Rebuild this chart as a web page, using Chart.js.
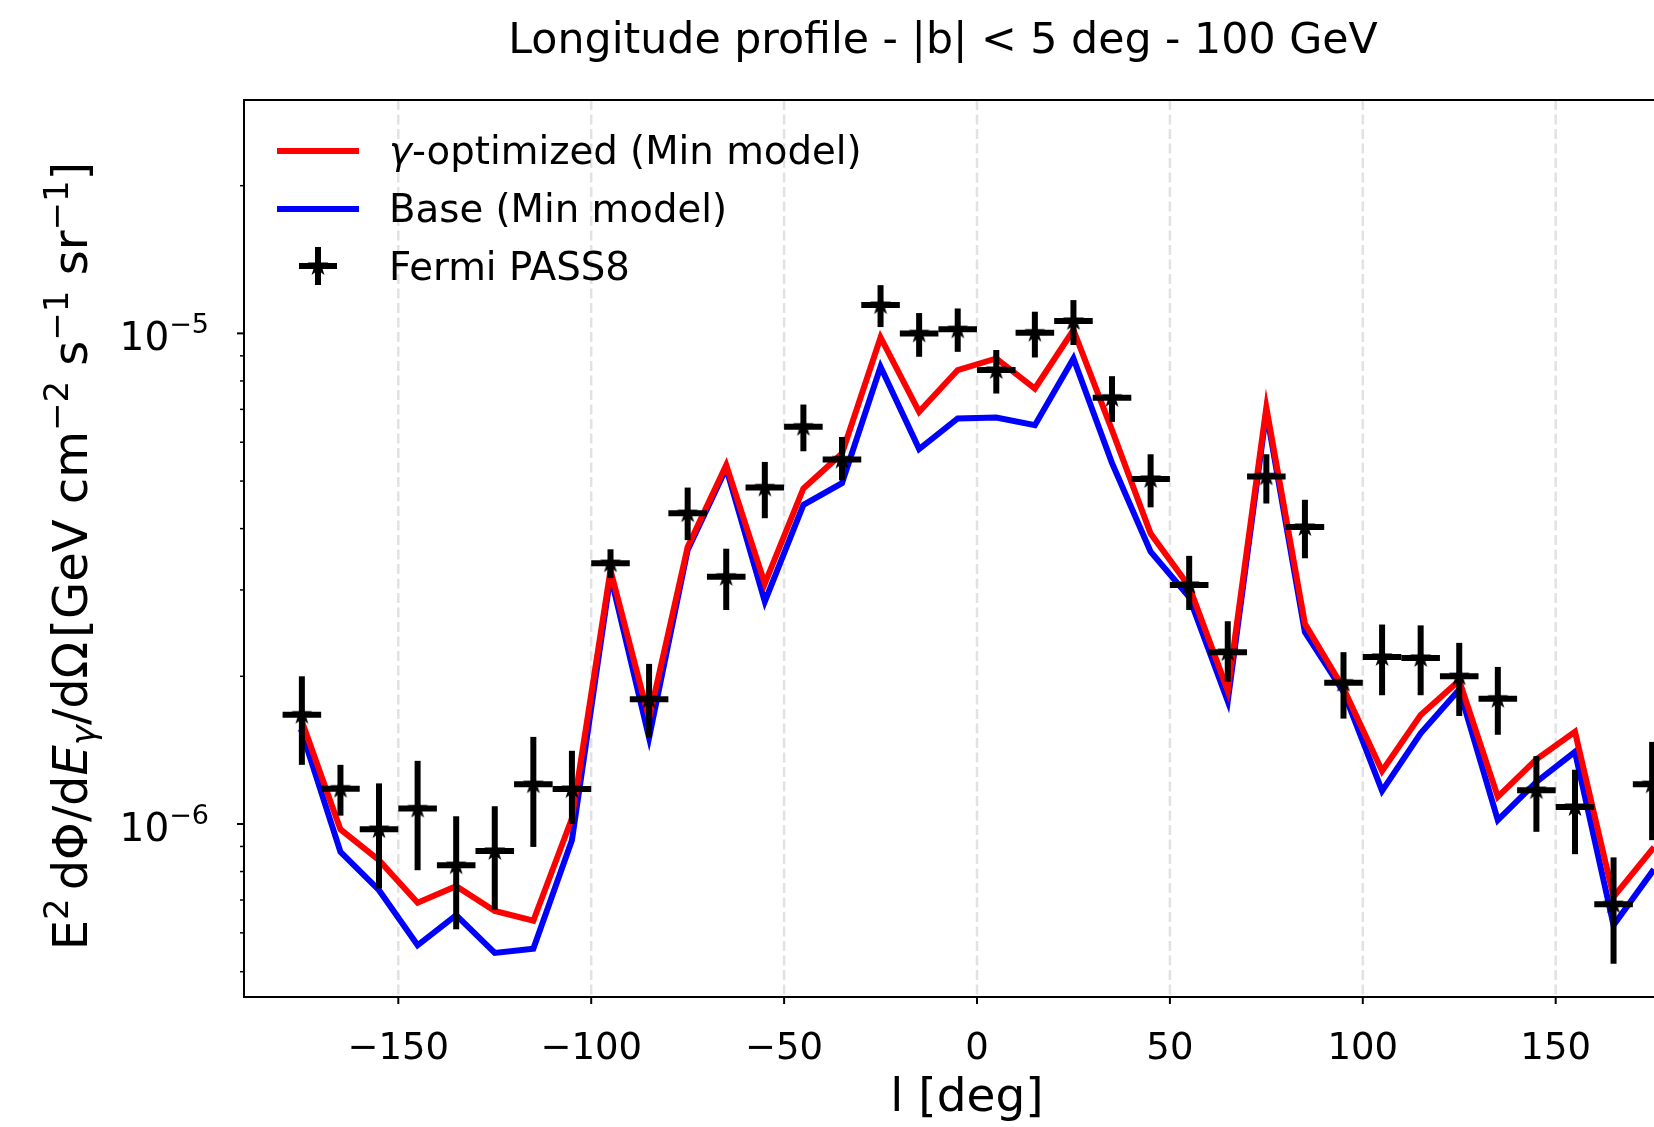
<!DOCTYPE html>
<html lang="en">
<head>
    <meta charset="UTF-8">
    <title>Longitude profile - 100 GeV</title>
    <!-- CDN for the chart.js library -->
    <script src="https://cdn.jsdelivr.net/npm/chart.js@4.4.0/dist/chart.umd.min.js"></script>
    <style>
        html, body { margin: 0; padding: 0; background: #fff; overflow: hidden; }
        canvas { display: block; }
    </style>
</head>
<body>
    <!-- figure is wider than the window, the right edge gets cut off like in the original -->
    <canvas id="chart" width="1886" height="1127"></canvas>

    <script>
        // longitude bin centres [deg], bins are 10 deg wide
        const longitudes = [-175, -165, -155, -145, -135, -125, -115, -105, -95, -85, -75, -65,
            -55, -45, -35, -25, -15, -5, 5, 15, 25, 35, 45, 55,
            65, 75, 85, 95, 105, 115, 125, 135, 145, 155, 165, 175];
        const binHalfWidth = 5;

        // E^2 dPhi/dE/dOmega [GeV cm^-2 s^-1 sr^-1]
        const gammaOptimized = [1.62e-6, 0.975e-6, 0.844e-6, 0.691e-6, 0.747e-6, 0.665e-6, 0.635e-6, 1.026e-6,
            3.29e-6, 1.64e-6, 3.67e-6, 5.39e-6, 3.09e-6, 4.83e-6, 5.69e-6, 9.81e-6, 6.92e-6, 8.42e-6,
            8.89e-6, 7.72e-6, 1.016e-5, 6.35e-6, 3.91e-6, 3.05e-6, 1.87e-6, 7.06e-6, 2.56e-6, 1.89e-6,
            1.283e-6, 1.667e-6, 1.96e-6, 1.136e-6, 1.354e-6, 1.541e-6, 0.710e-6, 0.887e-6];
        const baseModel = [1.54e-6, 0.877e-6, 0.733e-6, 0.566e-6, 0.652e-6, 0.546e-6, 0.557e-6, 0.927e-6,
            3.21e-6, 1.50e-6, 3.62e-6, 5.31e-6, 2.84e-6, 4.47e-6, 4.95e-6, 8.55e-6, 5.81e-6, 6.71e-6,
            6.74e-6, 6.50e-6, 8.89e-6, 5.44e-6, 3.59e-6, 2.90e-6, 1.78e-6, 6.92e-6, 2.46e-6, 1.86e-6,
            1.168e-6, 1.53e-6, 1.88e-6, 1.018e-6, 1.218e-6, 1.403e-6, 0.622e-6, 0.799e-6];
        const fermiFlux = [1.67e-6, 1.18e-6, 0.976e-6, 1.075e-6, 0.824e-6, 0.881e-6, 1.205e-6, 1.178e-6,
            3.40e-6, 1.796e-6, 4.30e-6, 3.19e-6, 4.85e-6, 6.45e-6, 5.53e-6, 1.142e-5, 1.00e-5, 1.019e-5,
            8.42e-6, 1.003e-5, 1.06e-5, 7.39e-6, 5.05e-6, 3.07e-6, 2.24e-6, 5.11e-6, 4.03e-6, 1.94e-6,
            2.19e-6, 2.18e-6, 2.00e-6, 1.80e-6, 1.172e-6, 1.083e-6, 0.686e-6, 1.205e-6];
        const fermiLow = [1.32e-6, 1.04e-6, 0.739e-6, 0.805e-6, 0.61e-6, 0.669e-6, 0.898e-6, 1.00e-6,
            3.17e-6, 1.50e-6, 3.79e-6, 2.73e-6, 4.20e-6, 5.75e-6, 5.02e-6, 1.03e-5, 8.96e-6, 9.17e-6,
            7.54e-6, 8.93e-6, 9.47e-6, 6.60e-6, 4.42e-6, 2.73e-6, 1.95e-6, 4.50e-6, 3.48e-6, 1.64e-6,
            1.83e-6, 1.83e-6, 1.66e-6, 1.52e-6, 0.964e-6, 0.868e-6, 0.519e-6, 0.927e-6];
        const fermiHigh = [2.0e-6, 1.32e-6, 1.21e-6, 1.345e-6, 1.037e-6, 1.087e-6, 1.505e-6, 1.41e-6,
            3.63e-6, 2.12e-6, 4.85e-6, 3.64e-6, 5.47e-6, 7.16e-6, 6.15e-6, 1.254e-5, 1.10e-5, 1.124e-5,
            9.25e-6, 1.107e-5, 1.169e-5, 8.18e-6, 5.67e-6, 3.52e-6, 2.59e-6, 5.67e-6, 4.58e-6, 2.24e-6,
            2.55e-6, 2.54e-6, 2.34e-6, 2.09e-6, 1.375e-6, 1.29e-6, 0.855e-6, 1.47e-6];

        // axes
        const xRange = [-190, 190];
        const yRange = [4.44e-7, 2.99e-5];
        const xTicks = [-150, -100, -50, 0, 50, 100, 150];
        const yMajorTicks = [1e-6, 1e-5];
        const yMajorExp = ['−6', '−5'];
        const yMinorTicks = [5e-7, 6e-7, 7e-7, 8e-7, 9e-7, 2e-6, 3e-6, 4e-6, 5e-6, 6e-6, 7e-6, 8e-6, 9e-6, 2e-5];

        const FONT = '"DejaVu Sans", sans-serif';

        // filled five point star, like the matplotlib '*' marker
        function starImage(r) {
            const c = document.createElement('canvas');
            c.width = c.height = 2 * r + 2;
            const g = c.getContext('2d');
            g.fillStyle = '#000';
            g.beginPath();
            for (let i = 0; i < 10; i++) {
                const rad = i % 2 === 0 ? r : r * 0.38;
                const ang = -Math.PI / 2 + i * Math.PI / 5;
                g.lineTo(r + 1 + rad * Math.cos(ang), r + 1 + rad * Math.sin(ang));
            }
            g.closePath();
            g.fill();
            return c;
        }
        const star = starImage(11);

        // text with super/subscripts, parts = [{t, size, dy, italic, gap}]
        function fontOf(p) { return (p.italic ? 'italic ' : '') + p.size + 'px ' + FONT; }
        function richWidth(ctx, parts) {
            let w = 0;
            parts.forEach(p => { ctx.font = fontOf(p); w += ctx.measureText(p.t).width + (p.gap || 0); });
            return w;
        }
        function drawRich(ctx, parts, x, y, align) {
            let cx = x;
            if (align === 'right') cx = x - richWidth(ctx, parts);
            if (align === 'center') cx = x - richWidth(ctx, parts) / 2;
            parts.forEach(p => {
                ctx.font = fontOf(p);
                cx += p.gap || 0;
                ctx.fillText(p.t, cx, y + (p.dy || 0));
                cx += ctx.measureText(p.t).width;
            });
        }
        function seg(ctx, x1, y1, x2, y2) {
            ctx.beginPath();
            ctx.moveTo(x1, y1);
            ctx.lineTo(x2, y2);
            ctx.stroke();
        }

        const figurePlugin = {
            id: 'figure',
            beforeDatasetsDraw(chart) {
                // dashed vertical grid
                const { ctx, chartArea: a, scales: { x } } = chart;
                ctx.save();
                ctx.strokeStyle = '#e2e2e2';
                ctx.lineWidth = 2.5;
                ctx.setLineDash([10, 4.5]);
                xTicks.forEach(t => {
                    const px = x.getPixelForValue(t);
                    seg(ctx, px, a.top, px, a.bottom);
                });
                ctx.restore();
            },
            afterDatasetsDraw(chart) {
                // Fermi error bars on top of the model lines
                const { ctx, scales: { x, y } } = chart;
                ctx.save();
                ctx.strokeStyle = '#000';
                ctx.lineWidth = 6;
                longitudes.forEach((l, i) => {
                    const px = x.getPixelForValue(l);
                    const py = y.getPixelForValue(fermiFlux[i]);
                    seg(ctx, x.getPixelForValue(l - binHalfWidth), py, x.getPixelForValue(l + binHalfWidth), py);
                    seg(ctx, px, y.getPixelForValue(fermiLow[i]), px, y.getPixelForValue(fermiHigh[i]));
                });
                ctx.restore();
            },
            afterDraw(chart) {
                const { ctx, chartArea: a, scales: { x, y } } = chart;
                ctx.save();
                ctx.fillStyle = '#000';
                ctx.strokeStyle = '#000';
                ctx.textBaseline = 'alphabetic';

                // frame
                ctx.lineWidth = 2;
                ctx.strokeRect(a.left, a.top, a.right - a.left, a.bottom - a.top);

                // x ticks
                ctx.font = '37px ' + FONT;
                ctx.textAlign = 'center';
                xTicks.forEach(t => {
                    const px = x.getPixelForValue(t);
                    seg(ctx, px, a.bottom, px, a.bottom + 7);
                    ctx.fillText(String(t).replace('-', '−'), px, 1059);
                });

                // y ticks
                ctx.textAlign = 'left';
                yMajorTicks.forEach((t, i) => {
                    const py = y.getPixelForValue(t);
                    ctx.lineWidth = 2;
                    seg(ctx, a.left - 7, py, a.left, py);
                    drawRich(ctx, [{ t: '10', size: 39 }, { t: yMajorExp[i], size: 27, dy: -17 }], 209, py + 17, 'right');
                });
                ctx.lineWidth = 1.5;
                yMinorTicks.forEach(t => {
                    const py = y.getPixelForValue(t);
                    seg(ctx, a.left - 4, py, a.left, py);
                });

                // title and axis labels
                ctx.font = '42.7px ' + FONT;
                ctx.textAlign = 'center';
                ctx.fillText('Longitude profile - |b| < 5 deg - 100 GeV', 943, 53);
                ctx.font = '47px ' + FONT;
                ctx.fillText('l [deg]', 967, 1111);

                ctx.textAlign = 'left';
                ctx.save();
                ctx.translate(87, 556);
                ctx.rotate(-Math.PI / 2);
                drawRich(ctx, [
                    { t: 'E', size: 48 },
                    { t: '2', size: 34, dy: -19 },
                    { t: 'dΦ/d', size: 48, gap: 8 },
                    { t: 'E', size: 48, italic: true },
                    { t: 'γ', size: 34, dy: 8, italic: true },
                    { t: '/dΩ', size: 48 },
                    { t: '[GeV cm', size: 48, gap: 4 },
                    { t: '−2', size: 34, dy: -19 },
                    { t: ' s', size: 48 },
                    { t: '−1', size: 34, dy: -19 },
                    { t: ' sr', size: 48 },
                    { t: '−1', size: 34, dy: -19 },
                    { t: ']', size: 48 }
                ], 0, 0, 'center');
                ctx.restore();

                // legend
                ctx.lineWidth = 6;
                ctx.strokeStyle = '#ff0000';
                seg(ctx, 277, 151, 359, 151);
                ctx.strokeStyle = '#0000ff';
                seg(ctx, 277, 209, 359, 209);
                ctx.strokeStyle = '#000';
                ctx.drawImage(star, 318 - star.width / 2, 266 - star.height / 2);
                seg(ctx, 299, 266, 337, 266);
                seg(ctx, 318, 247, 318, 285);

                drawRich(ctx, [{ t: 'γ', size: 38.7, italic: true }, { t: '-optimized (Min model)', size: 38.7 }], 389, 164, 'left');
                drawRich(ctx, [{ t: 'Base (Min model)', size: 38.7 }], 389, 222, 'left');
                drawRich(ctx, [{ t: 'Fermi PASS8', size: 38.7 }], 389, 280, 'left');
                ctx.restore();
            }
        };

        const toPoints = vals => longitudes.map((l, i) => ({ x: l, y: vals[i] }));

        const ctx = document.getElementById('chart').getContext('2d');
        const myChart = new Chart(ctx, {
            type: 'line',
            data: {
                datasets: [
                    {
                        // first dataset is drawn on top
                        label: 'Fermi PASS8',
                        data: toPoints(fermiFlux),
                        showLine: false,
                        pointStyle: star,
                        pointRadius: 11
                    },
                    {
                        label: 'γ-optimized (Min model)',
                        data: toPoints(gammaOptimized),
                        borderColor: '#ff0000',
                        borderWidth: 6,
                        pointRadius: 0,
                        tension: 0,
                        borderJoinStyle: 'miter',
                        borderCapStyle: 'square'
                    },
                    {
                        label: 'Base (Min model)',
                        data: toPoints(baseModel),
                        borderColor: '#0000ff',
                        borderWidth: 6,
                        pointRadius: 0,
                        tension: 0,
                        borderJoinStyle: 'miter',
                        borderCapStyle: 'square'
                    }
                ]
            },
            options: {
                responsive: false,
                animation: false,
                devicePixelRatio: 1,
                events: [],
                layout: { padding: { left: 244, right: 176, top: 100, bottom: 130 } },
                scales: {
                    x: { type: 'linear', min: xRange[0], max: xRange[1], display: false },
                    y: { type: 'logarithmic', min: yRange[0], max: yRange[1], display: false }
                },
                plugins: { legend: { display: false }, tooltip: { enabled: false } }
            },
            plugins: [figurePlugin]
        });
    </script>
</body>
</html>
